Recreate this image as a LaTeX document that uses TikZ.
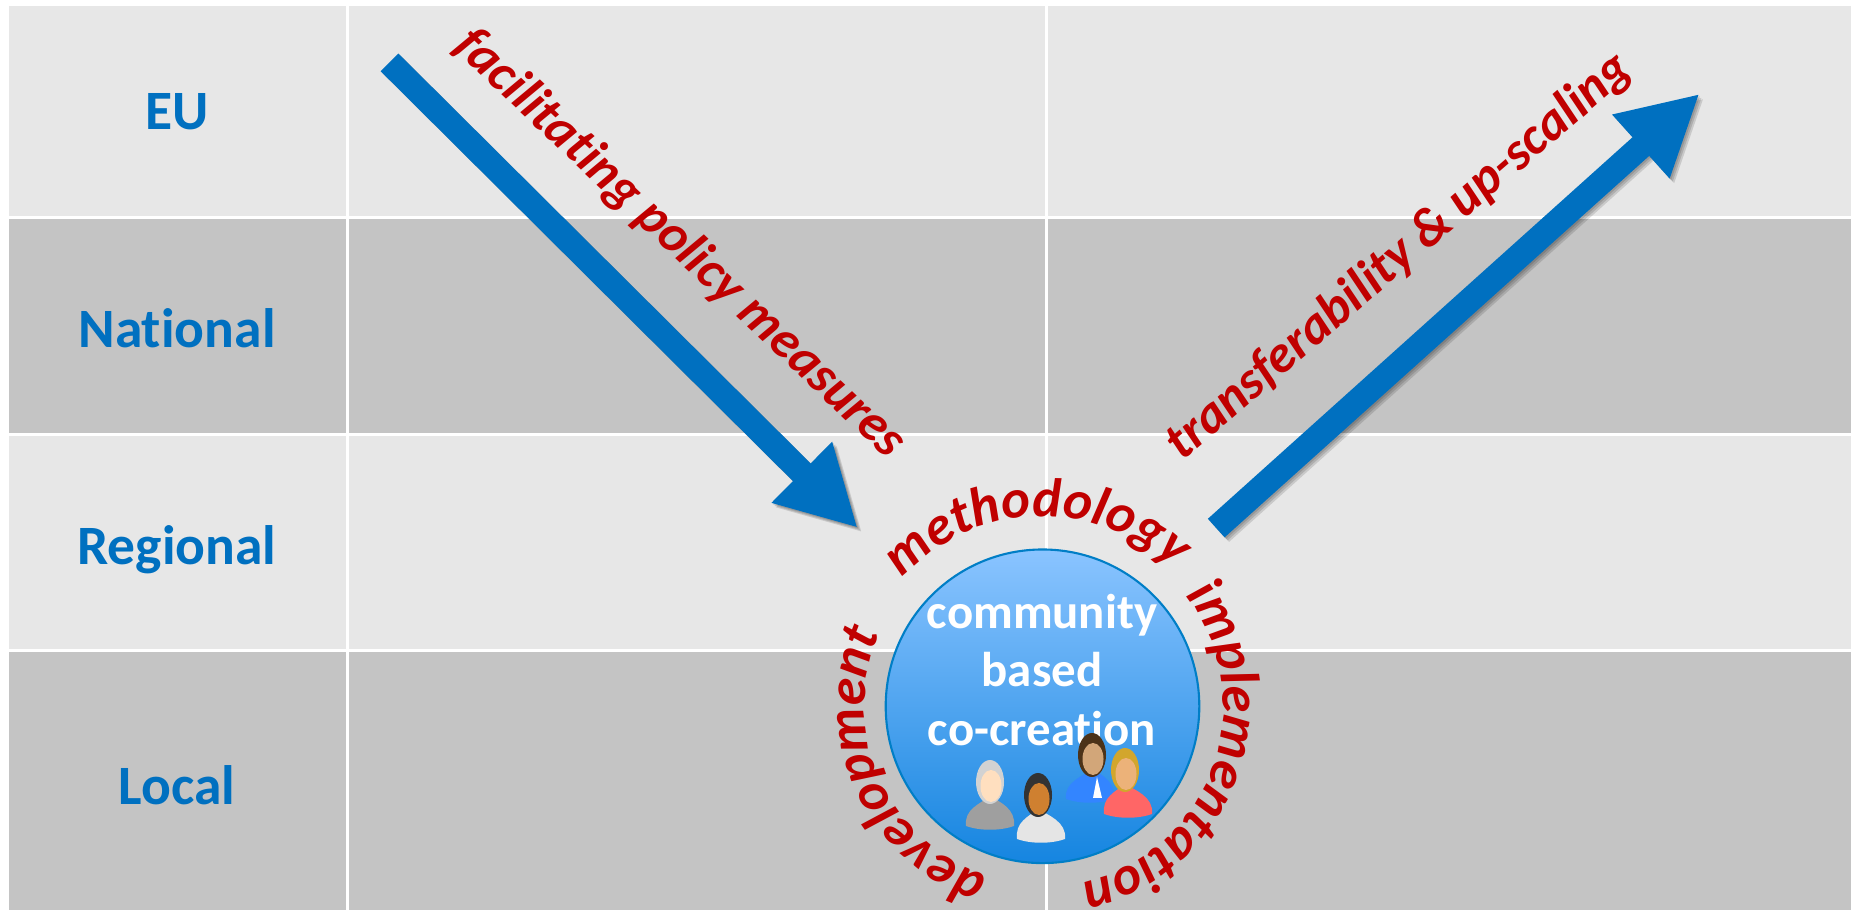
\documentclass[tikz,border=0pt]{standalone}
\usepackage{fontspec}
\setmainfont[Ligatures={NoCommon}]{Carlito}
\usetikzlibrary{arrows.meta}
\usetikzlibrary{decorations.text}
\definecolor{rowlight}{HTML}{E7E7E7}
\definecolor{rowdark}{HTML}{C4C4C4}
\definecolor{levelblue}{HTML}{0070C0}
\definecolor{curvered}{HTML}{C00000}
\definecolor{coretop}{HTML}{8AC4FF}
\definecolor{corebottom}{HTML}{1585E0}
\newcommand{\curvefont}{\fontsize{15.6}{18}\selectfont\bfseries\itshape}
\tikzset{
	levellabel/.style={text=levelblue,font=\fontsize{15.8}{18}\selectfont\bfseries},
	slantlabel/.style={text=curvered,font=\fontsize{15}{18}\selectfont\bfseries\itshape},
	arcword/.style={decorate,decoration={text along path,text align=center,text color=curvered,text={|\curvefont|#1}}},
	bluearrow/.style={draw=levelblue,line width=.25cm,-{Triangle[length=.79cm,width=.8cm]}},
	arrowshade/.style={draw=black,opacity=.13,line width=.25cm,-{Triangle[length=.79cm,width=.8cm]}},
}
% head centre, hair, face, cloth, shift of the shoulders
\newcommand{\personfig}[6]{
	\begin{scope}[shift={(#1,#2)}]
		\fill[#5] (-.24+#6,-.44) .. controls (-.26+#6,-.27) and (-.1,-.22) .. (0,-.14) .. controls (.1,-.2) and (.26+#6,-.27) .. (.24+#6,-.44) .. controls (.1+#6,-.49) and (-.1+#6,-.49) .. (-.24+#6,-.44);
		\fill[#3] (0,0) ellipse (.14 and .22);
		\fill[#4] (.01,-.04) ellipse (.105 and .16);
	\end{scope}
}

\begin{document}
\begin{tikzpicture}
	\useasboundingbox (0,0) rectangle (18.51,9.10);
	\fill[rowlight] (.085,9.04) rectangle (18.51,6.92);
	\fill[rowdark] (.085,6.92) rectangle (18.51,4.755);
	\fill[rowlight] (.085,4.755) rectangle (18.51,2.59);
	\fill[rowdark] (.085,2.59) rectangle (18.51,0);
	\foreach \ygrid in {6.92,4.755,2.59}
		\draw[white,line width=.03cm] (.085,\ygrid) -- (18.51,\ygrid);
	\foreach \xgrid in {3.475,10.46}
		\draw[white,line width=.03cm] (\xgrid,0) -- (\xgrid,9.04);

	\node[levellabel] (eu) at (1.77,7.98) {EU};
	\node[levellabel] (national) at (1.77,5.82) {National};
	\node[levellabel] (regional) at (1.77,3.6) {Regional};
	\node[levellabel] (local) at (1.77,1.25) {Local};

	\coordinate (policytail) at (3.895,8.476);
	\coordinate (policytip) at (8.578,3.82);
	\coordinate (scaletail) at (12.162,3.819);
	\coordinate (scaletip) at (16.996,8.162);
	\foreach \shadeoff in {.015,.03,.045} {
		\draw[arrowshade,transform canvas={xshift=\shadeoff cm,yshift=-\shadeoff cm}] (policytail) -- (policytip);
		\draw[arrowshade,transform canvas={xshift=\shadeoff cm,yshift=-\shadeoff cm}] (scaletail) -- (scaletip);
	}
	\draw[bluearrow] (policytail) -- (policytip);
	\draw[bluearrow] (scaletail) -- (scaletip);
	\node[slantlabel,rotate=-43.4] (policy) at (6.8,6.66) {facilitating policy measures};
	\node[slantlabel,rotate=40.7] (scaling) at (13.99,6.53) {transferability \& up-scaling};

	\node[circle,draw=levelblue!90!cyan,line width=.6pt,minimum size=3.136cm,top color=coretop,bottom color=corebottom,inner sep=0pt] (core) at (10.425,2.037) {};
	\node[text=white,align=center,font=\fontsize{13.9}{16.6}\selectfont\bfseries] (corelabel) at (10.42,2.4) {community\\based\\co-creation};

	\personfig{9.9}{1.28}{gray!35}{orange!25!white}{gray!75}{0}
	\personfig{10.38}{1.15}{black!80}{brown!75!orange}{gray!20}{.03}
	\personfig{10.92}{1.55}{black!60!brown}{brown!70!white}{blue!60!cyan!80}{-.02}
	\personfig{11.25}{1.4}{brown!70!yellow}{brown!50!orange!60}{red!60!white}{.03}
	\fill[white] (10.93,1.12) -- (10.97,1.33) -- (11.02,1.12) -- cycle;

	\path[arcword=methodology] ([shift={(147:1.9)}]core.center) arc (147:37:1.9);
	\path[arcword=implementation] ([shift={(45:1.81)}]core.center) arc (45:-85:1.81);
	\path[arcword=development] ([shift={(259:1.78)}]core.center) arc (259:149:1.78);
\end{tikzpicture}
\end{document}
